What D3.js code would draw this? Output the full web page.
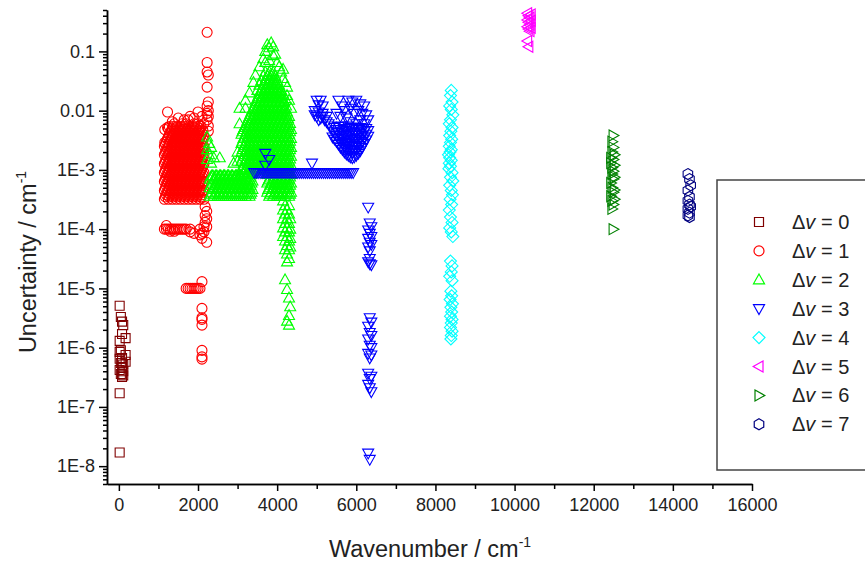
<!DOCTYPE html>
<html>
<head>
<meta charset="utf-8">
<script src="https://d3js.org/d3.v7.min.js"></script>
<style>
  body { margin: 0; background: #fff; }
  svg { font-family: "Liberation Sans", Arial, sans-serif; }
  .axis path, .axis line { stroke: #000; stroke-width: 1.5; }
  .axis text { font-size: 18px; fill: #222; font-family: "Liberation Sans", Arial, sans-serif; }
</style>
</head>
<body>
<div id="chart"></div>
<script>
// each series: [wavenumber, [uncertainties at that wavenumber]]
var dv0 = [
  [20, [5.1e-6, 1.3e-6, 8.5e-7, 6.5e-7, 4.2e-7, 1.7e-7, 1.7e-8]],
  [50, [3.3e-6, 9e-7, 5.5e-7, 3.6e-7]],
  [80, [2.75e-6, 1.7e-6, 6.7e-7, 4.6e-7, 3.2e-7]],
  [110, [2.4e-6, 5.2e-7, 4.0e-7, 3.4e-7]],
  [170, [1.45e-6, 7.5e-7, 5.8e-7]]
];

var dv1 = [
  [1150, [3.2e-4, 4.5e-4, 6.4e-4, 9.0e-4, 1.27e-3, 1.8e-3, 2.5e-3]],
  [1175, [3.5e-4, 4.9e-4, 7.0e-4, 9.8e-4, 1.38e-3, 1.96e-3, 2.7e-3]],
  [1200, [3.8e-4, 5.4e-4, 7.6e-4, 1.07e-3, 1.5e-3, 2.1e-3, 3.0e-3]],
  [1225, [4.2e-4, 5.9e-4, 8.3e-4, 1.17e-3, 1.65e-3, 2.3e-3, 3.3e-3]],
  [1250, [3.2e-4, 4.5e-4, 6.4e-4, 9.0e-4, 1.27e-3, 1.8e-3, 2.5e-3, 3.6e-3, 5.0e-3]],
  [1275, [3.5e-4, 4.9e-4, 7.0e-4, 9.8e-4, 1.38e-3, 1.96e-3, 2.7e-3, 3.9e-3, 5.4e-3]],
  [1300, [3.8e-4, 5.4e-4, 7.6e-4, 1.07e-3, 1.5e-3, 2.1e-3, 3.0e-3, 4.2e-3]],
  [1325, [4.2e-4, 5.9e-4, 8.3e-4, 1.17e-3, 1.65e-3, 2.3e-3, 3.3e-3, 4.6e-3]],
  [1350, [3.2e-4, 4.5e-4, 6.4e-4, 9.0e-4, 1.27e-3, 1.8e-3, 2.5e-3, 3.6e-3, 5.0e-3]],
  [1375, [3.5e-4, 4.9e-4, 7.0e-4, 9.8e-4, 1.38e-3, 1.96e-3, 2.7e-3, 3.9e-3, 5.4e-3]],
  [1400, [3.8e-4, 5.4e-4, 7.6e-4, 1.07e-3, 1.5e-3, 2.1e-3, 3.0e-3, 4.2e-3, 6.0e-3]],
  [1425, [4.2e-4, 5.9e-4, 8.3e-4, 1.17e-3, 1.65e-3, 2.3e-3, 3.3e-3, 4.6e-3]],
  [1450, [3.2e-4, 4.5e-4, 6.4e-4, 9.0e-4, 1.27e-3, 1.8e-3, 2.5e-3, 3.6e-3, 5.0e-3]],
  [1475, [3.5e-4, 4.9e-4, 7.0e-4, 9.8e-4, 1.38e-3, 1.96e-3, 2.7e-3, 3.9e-3, 5.4e-3]],
  [1500, [3.8e-4, 5.4e-4, 7.6e-4, 1.07e-3, 1.5e-3, 2.1e-3, 3.0e-3, 4.2e-3]],
  [1525, [4.2e-4, 5.9e-4, 8.3e-4, 1.17e-3, 1.65e-3, 2.3e-3, 3.3e-3, 4.6e-3]],
  [1550, [3.2e-4, 4.5e-4, 6.4e-4, 9.0e-4, 1.27e-3, 1.8e-3, 2.5e-3, 3.6e-3, 5.0e-3]],
  [1575, [3.5e-4, 4.9e-4, 7.0e-4, 9.8e-4, 1.38e-3, 1.96e-3, 2.7e-3, 3.9e-3, 5.4e-3]],
  [1600, [3.8e-4, 5.4e-4, 7.6e-4, 1.07e-3, 1.5e-3, 2.1e-3, 3.0e-3, 4.2e-3, 6.0e-3]],
  [1625, [4.2e-4, 5.9e-4, 8.3e-4, 1.17e-3, 1.65e-3, 2.3e-3, 3.3e-3, 4.6e-3]],
  [1650, [3.2e-4, 4.5e-4, 6.4e-4, 9.0e-4, 1.27e-3, 1.8e-3, 2.5e-3, 3.6e-3, 5.0e-3]],
  [1675, [3.5e-4, 4.9e-4, 7.0e-4, 9.8e-4, 1.38e-3, 1.96e-3, 2.7e-3, 3.9e-3, 5.4e-3]],
  [1700, [3.8e-4, 5.4e-4, 7.6e-4, 1.07e-3, 1.5e-3, 2.1e-3, 3.0e-3, 4.2e-3, 6.0e-3]],
  [1725, [4.2e-4, 5.9e-4, 8.3e-4, 1.17e-3, 1.65e-3, 2.3e-3, 3.3e-3, 4.6e-3]],
  [1750, [3.2e-4, 4.5e-4, 6.4e-4, 9.0e-4, 1.27e-3, 1.8e-3, 2.5e-3, 3.6e-3, 5.0e-3, 7.0e-3]],
  [1775, [3.5e-4, 4.9e-4, 7.0e-4, 9.8e-4, 1.38e-3, 1.96e-3, 2.7e-3, 3.9e-3, 5.4e-3]],
  [1800, [3.8e-4, 5.4e-4, 7.6e-4, 1.07e-3, 1.5e-3, 2.1e-3, 3.0e-3, 4.2e-3]],
  [1825, [4.2e-4, 5.9e-4, 8.3e-4, 1.17e-3, 1.65e-3, 2.3e-3, 3.3e-3, 4.6e-3]],
  [1850, [3.2e-4, 4.5e-4, 6.4e-4, 9.0e-4, 1.27e-3, 1.8e-3, 2.5e-3, 3.6e-3, 5.0e-3]],
  [1875, [3.5e-4, 4.9e-4, 7.0e-4, 9.8e-4, 1.38e-3, 1.96e-3, 2.7e-3, 3.9e-3, 5.4e-3]],
  [1900, [3.8e-4, 5.4e-4, 7.6e-4, 1.07e-3, 1.5e-3, 2.1e-3, 3.0e-3, 4.2e-3, 6.0e-3]],
  [1925, [4.2e-4, 5.9e-4, 8.3e-4, 1.17e-3, 1.65e-3, 2.3e-3, 3.3e-3, 4.6e-3]],
  [1950, [3.2e-4, 4.5e-4, 6.4e-4, 9.0e-4, 1.27e-3, 1.8e-3, 2.5e-3, 3.6e-3, 5.0e-3]],
  [1975, [3.5e-4, 4.9e-4, 7.0e-4, 9.8e-4, 1.38e-3, 1.96e-3, 2.7e-3, 3.9e-3, 5.4e-3]],
  [2000, [3.8e-4, 5.4e-4, 7.6e-4, 1.07e-3, 1.5e-3, 2.1e-3, 3.0e-3, 4.2e-3, 6.0e-3]],
  [2025, [4.2e-4, 5.9e-4, 8.3e-4, 1.17e-3, 1.65e-3, 2.3e-3, 3.3e-3, 4.6e-3]],
  [2050, [3.2e-4, 4.5e-4, 6.4e-4, 9.0e-4, 1.27e-3, 1.8e-3, 2.5e-3, 3.6e-3, 5.0e-3]],
  [2075, [3.5e-4, 4.9e-4, 7.0e-4, 9.8e-4, 1.38e-3, 1.96e-3, 2.7e-3, 3.9e-3, 5.4e-3]],
  [2100, [3.8e-4, 5.4e-4, 7.6e-4, 1.07e-3, 1.5e-3, 2.1e-3, 3.0e-3, 4.2e-3]],
  [2125, [4.2e-4, 5.9e-4, 8.3e-4, 1.17e-3, 1.65e-3, 2.3e-3, 3.3e-3, 4.6e-3]],
  [2150, [3.2e-4, 4.5e-4, 6.4e-4, 9.0e-4, 1.27e-3, 1.8e-3, 2.5e-3, 3.6e-3]],
  // scattered above the block
  [1160, [2.9e-3, 4.8e-3]], [1230, [9.5e-3, 5.2e-3]], [1350, [6.5e-3]], [1500, [7.5e-3]],
  [1650, [7e-3]], [1800, [8e-3]], [1900, [7.5e-3]], [2000, [9.5e-3]], [2100, [8e-3]], [2150, [6e-3]],
  [2230, [2.1e-1, 6.5e-2, 4.5e-2, 2.5e-2, 1.2e-2, 9e-3, 7e-3]],
  [2260, [4.0e-2, 1.4e-2, 1.0e-2, 8e-3, 5.5e-3, 4.5e-3]],
  // trail and 1E-4 row
  [2180, [2.4e-4, 1.7e-4, 1.3e-4]], [2220, [2.0e-4, 1.5e-4, 1.1e-4, 6e-5]], [2100, [8.5e-5, 7e-5]],
  [1150, [1e-4]], [1200, [1e-4, 1.15e-4]], [1250, [1e-4]], [1300, [9.2e-5, 1e-4]], [1350, [1e-4]],
  [1400, [1e-4, 9.2e-5]], [1450, [1e-4]], [1500, [1e-4]], [1550, [1e-4]], [1600, [1e-4]],
  [1650, [1e-4]], [1700, [1e-4]], [1800, [1e-4, 9e-5]], [1900, [8.5e-5]], [2050, [1e-4, 8e-5]],
  [2150, [9e-5, 1.1e-4]],
  // 1E-5 row and below
  [1700, [1e-5]], [1750, [1e-5]], [1800, [1e-5]], [1850, [1e-5]], [1900, [1e-5]], [1950, [1e-5]],
  [2000, [1e-5]], [2050, [1e-5]],
  [2100, [1.3e-5, 4.6e-6, 3.2e-6, 3e-6, 2.4e-6, 9e-7, 7e-7, 6.4e-7]]
];

var dv2 = [
  // flat band
  [2300, [3.6e-4, 5.0e-4, 7.0e-4]], [2325, [3.9e-4, 5.5e-4, 7.6e-4]],
  [2350, [4.2e-4, 6.0e-4, 8.0e-4]], [2375, [4.7e-4, 6.5e-4, 8.0e-4]],
  [2400, [3.6e-4, 5.0e-4, 7.0e-4]], [2425, [3.9e-4, 5.5e-4, 7.6e-4]],
  [2450, [4.2e-4, 6.0e-4, 8.0e-4]], [2475, [4.7e-4, 6.5e-4, 8.0e-4]],
  [2500, [3.6e-4, 5.0e-4, 7.0e-4]], [2525, [3.9e-4, 5.5e-4, 7.6e-4]],
  [2550, [4.2e-4, 6.0e-4, 8.0e-4]], [2575, [4.7e-4, 6.5e-4, 8.0e-4]],
  [2600, [3.6e-4, 5.0e-4, 7.0e-4]], [2625, [3.9e-4, 5.5e-4, 7.6e-4]],
  [2650, [4.2e-4, 6.0e-4, 8.0e-4]], [2675, [4.7e-4, 6.5e-4, 8.0e-4]],
  [2700, [3.6e-4, 5.0e-4, 7.0e-4]], [2725, [3.9e-4, 5.5e-4, 7.6e-4]],
  [2750, [4.2e-4, 6.0e-4, 8.0e-4]], [2775, [4.7e-4, 6.5e-4, 8.0e-4]],
  [2800, [3.6e-4, 5.0e-4, 7.0e-4]], [2825, [3.9e-4, 5.5e-4, 7.6e-4]],
  [2850, [4.2e-4, 6.0e-4, 8.0e-4]], [2875, [4.7e-4, 6.5e-4, 8.0e-4]],
  [2900, [3.6e-4, 5.0e-4, 7.0e-4]], [2925, [3.9e-4, 5.5e-4, 7.6e-4]],
  [2950, [4.2e-4, 6.0e-4, 8.0e-4]], [2975, [4.7e-4, 6.5e-4, 8.0e-4]],
  [3000, [3.6e-4, 5.0e-4, 7.0e-4]], [3025, [3.9e-4, 5.5e-4, 7.6e-4]],
  [3050, [4.2e-4, 6.0e-4, 8.0e-4]], [3075, [4.7e-4, 6.5e-4, 8.0e-4]],
  // tree
  [3100, [3.6e-4, 5.0e-4, 7.0e-4, 1.0e-3, 1.4e-3, 2.0e-3, 2.8e-3, 4.0e-3]],
  [3125, [3.9e-4, 5.5e-4, 7.6e-4, 1.09e-3, 1.53e-3, 2.2e-3, 3.05e-3, 4.4e-3]],
  [3150, [4.2e-4, 6.0e-4, 8.4e-4, 1.2e-3, 1.7e-3, 2.4e-3, 3.4e-3, 4.8e-3]],
  [3175, [4.7e-4, 6.5e-4, 9.1e-4, 1.3e-3, 1.82e-3, 2.6e-3, 3.6e-3, 5.2e-3]],
  [3200, [3.6e-4, 5.0e-4, 7.0e-4, 1.0e-3, 1.4e-3, 2.0e-3, 2.8e-3, 4.0e-3, 5.6e-3]],
  [3225, [3.9e-4, 5.5e-4, 7.6e-4, 1.09e-3, 1.53e-3, 2.2e-3, 3.05e-3, 4.4e-3, 6.1e-3]],
  [3250, [4.2e-4, 6.0e-4, 8.4e-4, 1.2e-3, 1.7e-3, 2.4e-3, 3.4e-3, 4.8e-3, 6.8e-3]],
  [3275, [4.7e-4, 6.5e-4, 9.1e-4, 1.3e-3, 1.82e-3, 2.6e-3, 3.6e-3, 5.2e-3, 7.3e-3]],
  [3300, [3.6e-4, 5.0e-4, 7.0e-4, 1.0e-3, 1.4e-3, 2.0e-3, 2.8e-3, 4.0e-3, 5.6e-3, 8.0e-3]],
  [3325, [3.9e-4, 5.5e-4, 7.6e-4, 1.09e-3, 1.53e-3, 2.2e-3, 3.05e-3, 4.4e-3, 6.1e-3, 8.7e-3]],
  [3350, [4.2e-4, 6.0e-4, 8.4e-4, 1.2e-3, 1.7e-3, 2.4e-3, 3.4e-3, 4.8e-3, 6.8e-3, 9.5e-3]],
  [3375, [4.7e-4, 6.5e-4, 9.1e-4, 1.3e-3, 1.82e-3, 2.6e-3, 3.6e-3, 5.2e-3, 7.3e-3, 1.04e-2]],
  [3400, [1.0e-3, 1.4e-3, 2.0e-3, 2.8e-3, 4.0e-3, 5.6e-3, 8.0e-3, 1.1e-2]],
  [3425, [1.09e-3, 1.53e-3, 2.2e-3, 3.05e-3, 4.4e-3, 6.1e-3, 8.7e-3, 1.2e-2]],
  [3450, [1.2e-3, 1.7e-3, 2.4e-3, 3.4e-3, 4.8e-3, 6.8e-3, 9.5e-3, 1.35e-2]],
  [3475, [1.3e-3, 1.82e-3, 2.6e-3, 3.6e-3, 5.2e-3, 7.3e-3, 1.04e-2, 1.43e-2]],
  [3500, [1.0e-3, 1.4e-3, 2.0e-3, 2.8e-3, 4.0e-3, 5.6e-3, 8.0e-3, 1.1e-2, 1.6e-2, 2.2e-2]],
  [3525, [1.09e-3, 1.53e-3, 2.2e-3, 3.05e-3, 4.4e-3, 6.1e-3, 8.7e-3, 1.2e-2, 1.75e-2]],
  [3550, [1.2e-3, 1.7e-3, 2.4e-3, 3.4e-3, 4.8e-3, 6.8e-3, 9.5e-3, 1.35e-2, 1.9e-2, 2.7e-2]],
  [3575, [1.3e-3, 1.82e-3, 2.6e-3, 3.6e-3, 5.2e-3, 7.3e-3, 1.04e-2, 1.43e-2, 2.1e-2]],
  [3600, [1.0e-3, 1.4e-3, 2.0e-3, 2.8e-3, 4.0e-3, 5.6e-3, 8.0e-3, 1.1e-2, 1.6e-2, 2.2e-2, 3.2e-2]],
  [3625, [1.09e-3, 1.53e-3, 2.2e-3, 3.05e-3, 4.4e-3, 6.1e-3, 8.7e-3, 1.2e-2, 1.75e-2, 2.4e-2]],
  [3650, [1.2e-3, 1.7e-3, 2.4e-3, 3.4e-3, 4.8e-3, 6.8e-3, 9.5e-3, 1.35e-2, 1.9e-2, 2.7e-2, 3.8e-2]],
  [3675, [1.3e-3, 1.82e-3, 2.6e-3, 3.6e-3, 5.2e-3, 7.3e-3, 1.04e-2, 1.43e-2, 2.1e-2, 2.9e-2]],
  [3700, [1.0e-3, 1.4e-3, 2.0e-3, 2.8e-3, 4.0e-3, 5.6e-3, 8.0e-3, 1.1e-2, 1.6e-2, 2.2e-2, 3.2e-2, 4.5e-2]],
  [3725, [1.09e-3, 1.53e-3, 2.2e-3, 3.05e-3, 4.4e-3, 6.1e-3, 8.7e-3, 1.2e-2, 1.75e-2, 2.4e-2, 3.5e-2]],
  [3750, [4.2e-4, 6.0e-4, 8.4e-4, 1.2e-3, 1.7e-3, 2.4e-3, 3.4e-3, 4.8e-3, 6.8e-3, 9.5e-3, 1.35e-2, 1.9e-2, 2.7e-2, 3.8e-2]],
  [3775, [4.7e-4, 6.5e-4, 9.1e-4, 1.3e-3, 1.82e-3, 2.6e-3, 3.6e-3, 5.2e-3, 7.3e-3, 1.04e-2, 1.43e-2, 2.1e-2, 2.9e-2, 4.1e-2]],
  [3800, [3.6e-4, 5.0e-4, 7.0e-4, 1.0e-3, 1.4e-3, 2.0e-3, 2.8e-3, 4.0e-3, 5.6e-3, 8.0e-3, 1.1e-2, 1.6e-2, 2.2e-2, 3.2e-2, 4.5e-2]],
  [3825, [3.9e-4, 5.5e-4, 7.6e-4, 1.09e-3, 1.53e-3, 2.2e-3, 3.05e-3, 4.4e-3, 6.1e-3, 8.7e-3, 1.2e-2, 1.75e-2, 2.4e-2, 3.5e-2]],
  [3850, [4.2e-4, 6.0e-4, 8.4e-4, 1.2e-3, 1.7e-3, 2.4e-3, 3.4e-3, 4.8e-3, 6.8e-3, 9.5e-3, 1.35e-2, 1.9e-2, 2.7e-2, 3.8e-2]],
  [3875, [4.7e-4, 6.5e-4, 9.1e-4, 1.3e-3, 1.82e-3, 2.6e-3, 3.6e-3, 5.2e-3, 7.3e-3, 1.04e-2, 1.43e-2, 2.1e-2, 2.9e-2, 4.1e-2]],
  [3900, [3.6e-4, 5.0e-4, 7.0e-4, 1.0e-3, 1.4e-3, 2.0e-3, 2.8e-3, 4.0e-3, 5.6e-3, 8.0e-3, 1.1e-2, 1.6e-2, 2.2e-2, 3.2e-2, 4.5e-2]],
  [3925, [3.9e-4, 5.5e-4, 7.6e-4, 1.09e-3, 1.53e-3, 2.2e-3, 3.05e-3, 4.4e-3, 6.1e-3, 8.7e-3, 1.2e-2, 1.75e-2, 2.4e-2, 3.5e-2]],
  [3950, [4.2e-4, 6.0e-4, 8.4e-4, 1.2e-3, 1.7e-3, 2.4e-3, 3.4e-3, 4.8e-3, 6.8e-3, 9.5e-3, 1.35e-2, 1.9e-2, 2.7e-2, 3.8e-2]],
  [3975, [4.7e-4, 6.5e-4, 9.1e-4, 1.3e-3, 1.82e-3, 2.6e-3, 3.6e-3, 5.2e-3, 7.3e-3, 1.04e-2, 1.43e-2, 2.1e-2, 2.9e-2]],
  [4000, [3.6e-4, 5.0e-4, 7.0e-4, 1.0e-3, 1.4e-3, 2.0e-3, 2.8e-3, 4.0e-3, 5.6e-3, 8.0e-3, 1.1e-2, 1.6e-2, 2.2e-2, 3.2e-2]],
  [4025, [3.9e-4, 5.5e-4, 7.6e-4, 1.09e-3, 1.53e-3, 2.2e-3, 3.05e-3, 4.4e-3, 6.1e-3, 8.7e-3, 1.2e-2, 1.75e-2, 2.4e-2]],
  [4050, [4.2e-4, 6.0e-4, 8.4e-4, 1.2e-3, 1.7e-3, 2.4e-3, 3.4e-3, 4.8e-3, 6.8e-3, 9.5e-3, 1.35e-2, 1.9e-2, 2.7e-2]],
  [4075, [4.7e-4, 6.5e-4, 9.1e-4, 1.3e-3, 1.82e-3, 2.6e-3, 3.6e-3, 5.2e-3, 7.3e-3, 1.04e-2, 1.43e-2, 2.1e-2]],
  [4100, [3.6e-4, 5.0e-4, 7.0e-4, 1.0e-3, 1.4e-3, 2.0e-3, 2.8e-3, 4.0e-3, 5.6e-3, 8.0e-3, 1.1e-2, 1.6e-2, 2.2e-2]],
  [4125, [3.9e-4, 5.5e-4, 7.6e-4, 1.09e-3, 1.53e-3, 2.2e-3, 3.05e-3, 4.4e-3, 6.1e-3, 8.7e-3, 1.2e-2, 1.75e-2]],
  [4150, [4.2e-4, 6.0e-4, 8.4e-4, 1.2e-3, 1.7e-3, 2.4e-3, 3.4e-3, 4.8e-3, 6.8e-3, 9.5e-3, 1.35e-2, 1.9e-2]],
  [4175, [4.7e-4, 6.5e-4, 9.1e-4, 1.3e-3, 1.82e-3, 2.6e-3, 3.6e-3, 5.2e-3, 7.3e-3, 1.04e-2, 1.43e-2]],
  [4200, [3.6e-4, 5.0e-4, 7.0e-4, 1.0e-3, 1.4e-3, 2.0e-3, 2.8e-3, 4.0e-3, 5.6e-3, 8.0e-3, 1.1e-2, 1.6e-2]],
  [4225, [3.9e-4, 5.5e-4, 7.6e-4, 1.09e-3, 1.53e-3, 2.2e-3, 3.05e-3, 4.4e-3, 6.1e-3, 8.7e-3, 1.2e-2]],
  [4250, [4.2e-4, 6.0e-4, 8.4e-4, 1.2e-3, 1.7e-3, 2.4e-3, 3.4e-3, 4.8e-3, 6.8e-3, 9.5e-3]],
  [4275, [4.7e-4, 6.5e-4, 9.1e-4, 1.3e-3, 1.82e-3, 2.6e-3, 3.6e-3, 5.2e-3, 7.3e-3]],
  [4300, [3.6e-4, 5.0e-4, 7.0e-4, 1.0e-3, 1.4e-3, 2.0e-3, 2.8e-3, 4.0e-3, 5.6e-3, 8.0e-3]],
  [4325, [3.9e-4, 5.5e-4, 7.6e-4, 1.09e-3, 1.53e-3, 2.2e-3, 3.05e-3, 4.4e-3, 6.1e-3]],
  [4350, [4.2e-4, 6.0e-4, 8.4e-4, 1.2e-3, 1.7e-3, 2.4e-3, 3.4e-3, 4.8e-3]],
  // sparse tops
  [3050, [1.1e-2, 6e-3]], [3200, [1.5e-2, 1.1e-2]], [3300, [2.0e-2]], [3400, [3.0e-2]],
  [3450, [4.0e-2]], [3550, [5.5e-2]], [3650, [7.5e-2]], [3700, [1.0e-1, 6.5e-2]],
  [3750, [1.3e-1]], [3800, [1.15e-1, 7e-2]], [3850, [1.4e-1]], [3900, [1.2e-1, 8.5e-2]],
  [3950, [9.0e-2]], [4000, [6.5e-2]], [4050, [5.5e-2]], [4100, [4.5e-2]], [4150, [5.0e-2, 3.5e-2]],
  [4200, [3.0e-2]], [4250, [2.5e-2, 1.8e-2]], [4300, [1.5e-2]], [4350, [1.1e-2]],
  // scattered near 2200-3000
  [2230, [3.6e-3, 2.2e-3, 1.5e-3]], [2280, [2.8e-3, 1.8e-3]], [2330, [2.4e-3, 1.3e-3]],
  [2400, [1.6e-3]], [2550, [1.6e-3]], [2900, [1.3e-3]], [3000, [2.0e-3, 1.4e-3]],
  // lower column
  [4150, [3.0e-4, 2.1e-4, 1.5e-4, 1.05e-4, 7.5e-5]],
  [4200, [2.5e-4, 1.8e-4, 1.25e-4, 9e-5, 6.3e-5, 4.5e-5, 1.4e-5]],
  [4250, [2.1e-4, 1.5e-4, 1.05e-4, 7.5e-5, 5.3e-5, 3.8e-5, 2.8e-5, 9.6e-6, 2.8e-6]],
  [4300, [2.5e-4, 1.8e-4, 1.25e-4, 9e-5, 6.3e-5, 4.5e-5, 3.2e-5, 6.9e-6, 3.5e-6, 2.4e-6]],
  [4330, [1.5e-4, 1e-4, 7e-5, 5e-5, 4.9e-6]]
];

var dv3 = [
  // flat band
  [3420, [9e-4]], [3470, [9e-4]], [3520, [9e-4]], [3570, [9e-4]], [3620, [9e-4]], [3670, [9e-4]],
  [3720, [9e-4]], [3770, [9e-4]], [3820, [9e-4]], [3870, [9e-4]], [3920, [9e-4]], [3970, [9e-4]],
  [4020, [9e-4]], [4070, [9e-4]], [4120, [9e-4]], [4170, [9e-4]], [4220, [9e-4]], [4270, [9e-4]],
  [4320, [9e-4]], [4370, [9e-4]], [4420, [9e-4]], [4470, [9e-4]], [4520, [9e-4]], [4570, [9e-4]],
  [4620, [9e-4]], [4670, [9e-4]], [4720, [9e-4]], [4770, [9e-4]], [4820, [9e-4]], [4870, [9e-4]],
  [4920, [9e-4]], [4970, [9e-4]], [5020, [9e-4]], [5070, [9e-4]], [5120, [9e-4]], [5170, [9e-4]],
  [5220, [9e-4]], [5270, [9e-4]], [5320, [9e-4]], [5370, [9e-4]], [5420, [9e-4]], [5470, [9e-4]],
  [5520, [9e-4]], [5570, [9e-4]], [5620, [9e-4]], [5670, [9e-4]], [5720, [9e-4]], [5770, [9e-4]],
  [5820, [9e-4]], [5870, [9e-4]], [5920, [9e-4]],
  [3700, [1.9e-3, 1.2e-3]], [3800, [1.5e-3]], [4880, [1.3e-3]],
  // upper-left scatter
  [4950, [1.0e-2, 8.5e-3]], [5000, [1.5e-2, 8e-3]], [5050, [1.25e-2, 9.5e-3, 7e-3]],
  [5100, [1.5e-2, 7.5e-3]], [5150, [1.2e-2, 9e-3, 8e-3]], [5200, [7e-3]], [5250, [8e-3, 6.5e-3]],
  [5300, [6e-3]], [5350, [5.5e-3]],
  // bowl
  [5400, [3.6e-3, 4.5e-3]],
  [5450, [3.3e-3, 4.2e-3, 5.2e-3]],
  [5500, [3.0e-3, 3.8e-3, 4.8e-3]],
  [5550, [2.7e-3, 3.4e-3, 4.3e-3, 5.4e-3]],
  [5600, [2.4e-3, 3.0e-3, 3.8e-3, 4.8e-3]],
  [5650, [2.2e-3, 2.8e-3, 3.5e-3, 4.4e-3, 5.5e-3]],
  [5700, [2.0e-3, 2.5e-3, 3.2e-3, 4.0e-3, 5.0e-3]],
  [5750, [1.85e-3, 2.3e-3, 2.9e-3, 3.7e-3, 4.6e-3]],
  [5800, [1.75e-3, 2.2e-3, 2.8e-3, 3.5e-3, 4.4e-3, 5.5e-3]],
  [5850, [1.65e-3, 2.1e-3, 2.6e-3, 3.3e-3, 4.2e-3, 5.2e-3]],
  [5900, [1.6e-3, 2.0e-3, 2.5e-3, 3.2e-3, 4.0e-3, 5.0e-3]],
  [5950, [1.65e-3, 2.1e-3, 2.6e-3, 3.3e-3, 4.2e-3, 5.3e-3]],
  [6000, [1.75e-3, 2.2e-3, 2.8e-3, 3.5e-3, 4.4e-3]],
  [6050, [1.9e-3, 2.4e-3, 3.0e-3, 3.8e-3, 4.8e-3]],
  [6100, [2.1e-3, 2.6e-3, 3.3e-3, 4.2e-3, 5.2e-3]],
  [6150, [2.4e-3, 3.0e-3, 3.8e-3, 4.7e-3]],
  [6200, [2.8e-3, 3.5e-3, 4.4e-3]],
  [6250, [3.2e-3, 4.0e-3, 5.0e-3]],
  [6300, [3.7e-3, 4.6e-3]],
  // upper-right scatter
  [5500, [9e-3]], [5550, [1.5e-2]], [5600, [8e-3]], [5650, [1.2e-2]], [5700, [1e-2]], [5750, [7.5e-3]],
  [5800, [1.5e-2]], [5850, [1.1e-2, 6.5e-3]], [5900, [1.4e-2]], [5950, [9e-3]], [6000, [1.5e-2, 6e-3]],
  [6050, [1e-2]], [6100, [1.3e-2, 7e-3]], [6150, [9e-3]], [6200, [1.2e-2, 6e-3]], [6250, [8.5e-3]],
  [6300, [7e-3]],
  // low column
  [6300, [2.35e-4, 9.7e-5, 7e-5, 5e-5, 2.8e-5, 2.3e-6, 1.4e-6, 8e-7, 3.7e-7, 2.4e-7, 1.66e-8]],
  [6340, [1.27e-4, 8.5e-5, 6e-5, 4.3e-5, 3.2e-5, 2.6e-5, 3.2e-6, 1.8e-6, 1.1e-6, 6.7e-7, 3e-7, 2.1e-7, 1.3e-8]],
  [6380, [1.1e-4, 7.5e-5, 5.5e-5, 2.5e-5, 2.7e-6, 1.6e-6, 1e-6, 7.5e-7, 3.3e-7, 1.8e-7]]
];

var dv4 = [
  [8330, [1.8e-3]],
  [8340, [1.05e-3]],
  [8350, [6e-3, 2.5e-3, 1.3e-3, 2.1e-4]],
  [8360, [1.2e-2, 3.8e-3, 1.6e-3, 5.5e-4, 1.05e-4, 1.6e-5]],
  [8370, [2e-3, 3.2e-4, 6.5e-6]],
  [8380, [1.8e-2, 7e-3, 2.9e-3, 1.15e-3, 7.5e-4, 1.6e-4, 2.9e-5, 3.4e-6, 2.2e-6]],
  [8390, [4.5e-3, 9e-6, 4.8e-6, 1.4e-6]],
  [8400, [2.2e-2, 1.05e-2, 2.2e-3, 1.45e-3, 4.5e-4, 9e-5, 1.9e-5, 2.6e-6, 1.6e-6]],
  [8410, [3.3e-3, 2.6e-4, 7.5e-6, 4e-6]],
  [8420, [1.4e-2, 5.2e-3, 9e-4, 1.3e-4, 2.4e-5, 1.35e-5, 3e-6, 1.9e-6]],
  [8430, [3.8e-4, 5.5e-6]],
  [8440, [8.5e-3, 6.5e-4, 7.5e-5]]
];

var dv5 = [
  [10330, [4.4e-1, 3.4e-1, 2.6e-1, 1.5e-1]],
  [10360, [4.0e-1, 3.1e-1, 2.4e-1, 1.2e-1]],
  [10390, [3.7e-1, 2.8e-1, 2.2e-1]],
  [10420, [4.2e-1, 3.3e-1, 2.5e-1]]
];

var dv6 = [
  [12430, [1.6e-3, 1.3e-3, 6e-4, 3.6e-4]],
  [12460, [3.0e-3, 2.0e-3, 1.1e-3, 8.5e-4, 5e-4, 3e-4, 2.2e-4]],
  [12490, [3.8e-3, 2.4e-3, 1.5e-3, 9.5e-4, 7e-4, 4.2e-4, 2.6e-4, 1e-4]],
  [12520, [1.8e-3, 1.2e-3, 7.5e-4, 4.6e-4, 3.2e-4]]
];

var dv7 = [
  [14380, [8.5e-4, 4.5e-4, 3e-4, 2.2e-4, 1.7e-4]],
  [14420, [7e-4, 3.5e-4, 2.6e-4, 1.9e-4, 1.6e-4]],
  [14450, [5.5e-4, 2.4e-4]]
];

var seriesNames = ["0", "1", "2", "3", "4", "5", "6", "7"];
var seriesData = [dv0, dv1, dv2, dv3, dv4, dv5, dv6, dv7];
var seriesColors = ["#800000", "#ff0000", "#00ff00", "#0000ff", "#00ffff", "#ff00ff", "#008000", "#000080"];
var seriesShapes = ["square", "circle", "up", "down", "diamond", "left", "right", "hexagon"];

var xMajorTicks = [0, 2000, 4000, 6000, 8000, 10000, 12000, 14000, 16000];
var xMinorTicks = [1000, 3000, 5000, 7000, 9000, 11000, 13000, 15000];
var yMajorTicks = [1e-8, 1e-7, 1e-6, 1e-5, 1e-4, 1e-3, 1e-2, 1e-1];
var yTickLabels = ["1E-8", "1E-7", "1E-6", "1E-5", "1E-4", "1E-3", "0.01", "0.1"];

var width = 865, height = 563;

var svg = d3.select("#chart").append("svg")
    .attr("width", width)
    .attr("height", height);

var x = d3.scaleLinear().domain([-300, 16000]).range([107, 752]);
var y = d3.scaleLog().domain([5e-9, 0.5]).range([484, 10]);

function markerPath(shape) {
    switch (shape) {
        case "square": return "M-4.5,-4.5H4.5V4.5H-4.5Z";
        case "circle": return "M5,0A5,5 0 1,1 -5,0A5,5 0 1,1 5,0Z";
        case "up": return "M0,-5.8L5.5,4L-5.5,4Z";
        case "down": return "M0,5.8L5.5,-4L-5.5,-4Z";
        case "diamond": return "M0,-6L6,0L0,6L-6,0Z";
        case "left": return "M-5.8,0L4,-5.5L4,5.5Z";
        case "right": return "M5.8,0L-4,-5.5L-4,5.5Z";
        case "hexagon": return "M0,-5.5L4.76,-2.75L4.76,2.75L0,5.5L-4.76,2.75L-4.76,-2.75Z";
    }
}

// points
var plot = svg.append("g");
seriesData.forEach(function (data, i) {
    var pts = [];
    data.forEach(function (col) {
        col[1].forEach(function (u) { pts.push({ w: col[0], u: u }); });
    });
    plot.append("g")
        .selectAll("path")
        .data(pts)
        .enter()
        .append("path")
        .attr("d", markerPath(seriesShapes[i]))
        .attr("transform", function (d) { return "translate(" + x(d.w) + "," + y(d.u) + ")"; })
        .attr("fill", "none")
        .attr("stroke", seriesColors[i])
        .attr("stroke-width", 1.1);
});

// axes
var yMinor = y.ticks().filter(function (t) {
    return yMajorTicks.every(function (m) { return Math.abs(t / m - 1) > 1e-6; });
});

svg.append("g")
    .attr("class", "axis")
    .attr("transform", "translate(0,484)")
    .call(d3.axisBottom(x).tickValues(xMinorTicks).tickSize(5).tickSizeOuter(0).tickFormat(""));

svg.append("g")
    .attr("class", "axis")
    .attr("transform", "translate(0,484)")
    .call(d3.axisBottom(x).tickValues(xMajorTicks).tickSize(7).tickSizeOuter(0).tickPadding(7)
        .tickFormat(d3.format("d")));

svg.append("g")
    .attr("class", "axis")
    .attr("transform", "translate(107,0)")
    .call(d3.axisLeft(y).tickValues(yMinor).tickSize(4).tickSizeOuter(0).tickFormat(""));

svg.append("g")
    .attr("class", "axis")
    .attr("transform", "translate(107,0)")
    .call(d3.axisLeft(y).tickValues(yMajorTicks).tickSize(8).tickSizeOuter(0).tickPadding(4)
        .tickFormat(function (d, i) { return yTickLabels[i]; }));

// axis titles
var xt = svg.append("text")
    .attr("x", 430)
    .attr("y", 557)
    .attr("text-anchor", "middle")
    .style("font-size", "23.5px")
    .attr("fill", "#222")
    .text("Wavenumber / cm");
xt.append("tspan").attr("dy", -10).style("font-size", "14px").text("-1");

var yt = svg.append("text")
    .attr("transform", "translate(36,262) rotate(-90)")
    .attr("text-anchor", "middle")
    .style("font-size", "23.5px")
    .attr("fill", "#222")
    .text("Uncertainty / cm");
yt.append("tspan").attr("dy", -10).style("font-size", "14px").text("-1");

// legend
var legend = svg.append("g");
legend.append("rect")
    .attr("x", 717)
    .attr("y", 180)
    .attr("width", 170)
    .attr("height", 290)
    .attr("fill", "#fff")
    .attr("stroke", "#444")
    .attr("stroke-width", 1.5);

seriesNames.forEach(function (name, i) {
    var ly = 222 + i * 28.9;
    legend.append("path")
        .attr("d", markerPath(seriesShapes[i]))
        .attr("transform", "translate(759," + ly + ")")
        .attr("fill", "none")
        .attr("stroke", seriesColors[i])
        .attr("stroke-width", 1.2);
    var t = legend.append("text")
        .attr("x", 792)
        .attr("y", ly + 7)
        .style("font-size", "20px")
        .attr("fill", "#222");
    t.append("tspan").text("\u0394");
    t.append("tspan").style("font-style", "italic").text("v");
    t.append("tspan").text(" = " + name);
});
</script>
</body>
</html>
